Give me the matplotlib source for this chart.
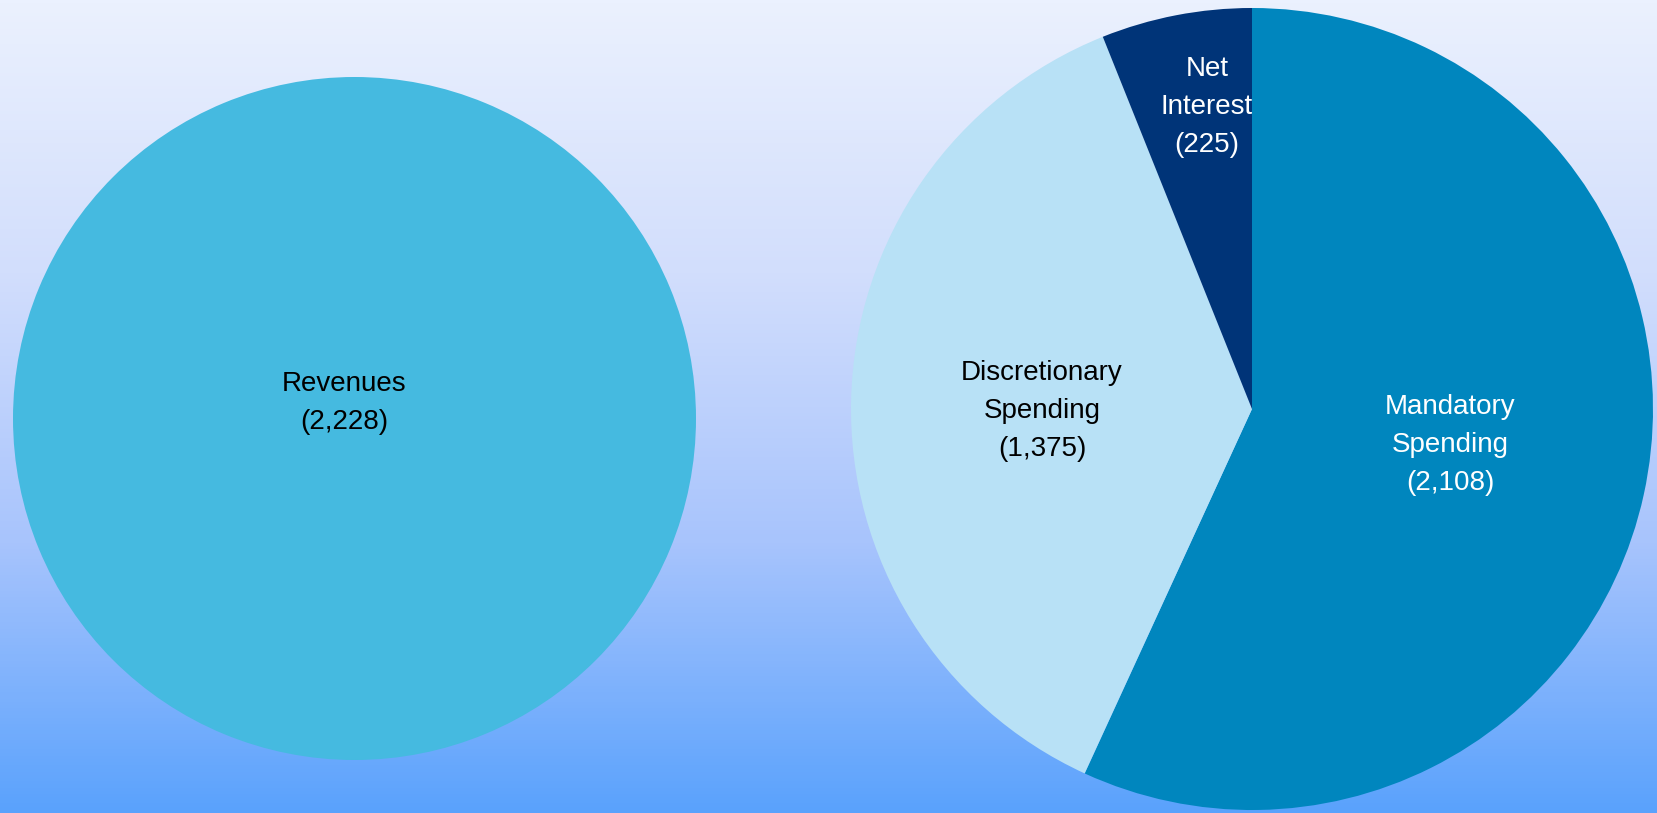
import matplotlib.pyplot as plt
import numpy as np
from matplotlib.colors import LinearSegmentedColormap

plt.rcParams['font.family'] = ['Liberation Sans', 'DejaVu Sans']

# data (billions of dollars)
rev_labels = ['Revenues\n(2,228)']
rev_values = [2228]
rev_colors = ['#45bae0']

out_labels = ['Mandatory\nSpending\n(2,108)', 'Discretionary\nSpending\n(1,375)', 'Net\nInterest\n(225)']
out_values = [2108, 1375, 225]
out_colors = ['#0086be', '#b8e1f6', '#003478']
out_text_colors = ['white', 'black', 'white']

W, H = 1658, 813
fig = plt.figure(figsize=(W / 100, H / 100), dpi=100)
ax = fig.add_axes([0, 0, 1, 1])

# background gradient
bg = LinearSegmentedColormap.from_list('bg', ['#5aa2fc', '#a8c4fc', '#d2defc', '#ebf1fe'])
grad = np.linspace(0, 1, 256).reshape(-1, 1)
ax.imshow(grad, cmap=bg, extent=[0, W, 0, H], origin='lower', aspect='auto', zorder=0)

# revenues pie
ax.pie(rev_values, colors=rev_colors, center=(354.5, H - 418.5), radius=341.5,
       startangle=90, wedgeprops={'linewidth': 0}, frame=True)
ax.text(344, H - 403, rev_labels[0], ha='center', va='center', fontsize=20,
        linespacing=1.6, color='black')

# outlays pie
ax.pie(out_values, colors=out_colors, center=(1252, H - 409), radius=401,
       startangle=90, counterclock=False, wedgeprops={'linewidth': 0}, frame=True)
label_pos = [(1450, H - 445), (1042, H - 411), (1207, H - 107)]
for lab, (x, y), c in zip(out_labels, label_pos, out_text_colors):
    ax.text(x, y, lab, ha='center', va='center', fontsize=20, linespacing=1.6, color=c)

ax.set_xlim(0, W)
ax.set_ylim(0, H)
ax.set_aspect('equal')
ax.axis('off')

fig.savefig('out.png', dpi=100)
